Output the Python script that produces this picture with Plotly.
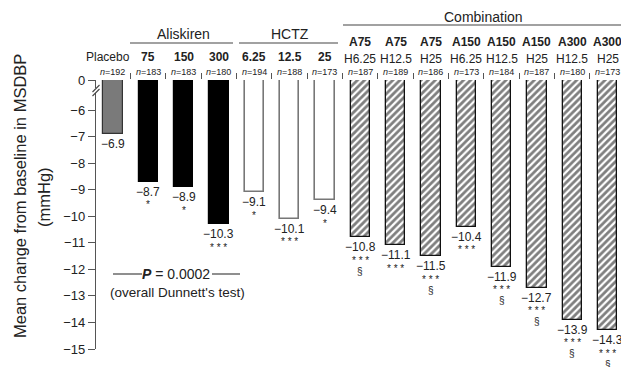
import plotly.graph_objects as go

# ---------------- data ----------------
categories = ["Placebo", "A75", "A150", "A300", "H6.25", "H12.5", "H25",
              "A75 H6.25", "A75 H12.5", "A75 H25", "A150 H6.25", "A150 H12.5",
              "A150 H25", "A300 H12.5", "A300 H25"]
values = [-6.9, -8.7, -8.9, -10.3, -9.1, -10.1, -9.4,
          -10.8, -11.1, -11.5, -10.4, -11.9, -12.7, -13.9, -14.3]
n_sizes = [192, 183, 183, 180, 194, 188, 173, 187, 189, 186, 173, 184, 187, 180, 173]
stars = ["", "*", "*", "* * *", "*", "* * *", "*",
         "* * *", "* * *", "* * *", "* * *", "* * *", "* * *", "* * *", "* * *"]
section = ["", "", "", "", "", "", "",
           "§", "", "§", "", "§", "§", "§", "§"]
top_labels = ["Placebo", "75", "150", "300", "6.25", "12.5", "25"]
combo_line1 = ["A75", "A75", "A75", "A150", "A150", "A150", "A300", "A300"]
combo_line2 = ["H6.25", "H12.5", "H25", "H6.25", "H12.5", "H25", "H12.5", "H25"]
groups = ["placebo", "aliskiren", "aliskiren", "aliskiren", "hctz", "hctz", "hctz",
          "combo", "combo", "combo", "combo", "combo", "combo", "combo", "combo"]
y_ticks = [-6, -7, -8, -9, -10, -11, -12, -13, -14, -15]

# ---------------- geometry ----------------
W, H = 621, 367
ML, MR, MT, MB = 96, 1, 80, 18
ZERO = -4.87          # axis position used to draw the "0" level (broken axis)
FONT = "Liberation Sans, Arial, Helvetica, sans-serif"
TXT = "#222"

def px_x(p):
    return (p - ML) / (W - ML - MR)

def px_y(p):
    return (H - MB - p) / (H - MT - MB)

styles = {
    "placebo": dict(color="#7a7a7a", line=dict(color="#333", width=1.2)),
    "aliskiren": dict(color="#000000", line=dict(color="#000", width=1.2)),
    "hctz": dict(color="#ffffff", line=dict(color="#777", width=1.6)),
    "combo": dict(color="#ffffff", line=dict(color="#111", width=1.3),
                  pattern=dict(shape="/", fgcolor="#000", bgcolor="#ffffff",
                               size=5, solidity=0.55)),
}

fig = go.Figure()
for g in ["placebo", "aliskiren", "hctz", "combo"]:
    idx = [i for i, gg in enumerate(groups) if gg == g]
    fig.add_trace(go.Bar(
        x=idx, y=[values[i] - ZERO for i in idx], base=[ZERO] * len(idx),
        width=0.54, marker=styles[g], showlegend=False, hoverinfo="skip"))

ann = []
def add(**kw):
    kw.setdefault("showarrow", False)
    kw.setdefault("xanchor", "center")
    kw.setdefault("yanchor", "middle")
    ann.append(kw)

for i, v in enumerate(values):
    add(x=i, y=v, xref="x", yref="y", text="−%.1f" % abs(v), yshift=-10,
        font=dict(size=12, color=TXT, family=FONT))
    if stars[i]:
        add(x=i, y=v, xref="x", yref="y", text=stars[i], yshift=-23,
            font=dict(size=10, color=TXT, family=FONT))
    if section[i]:
        add(x=i, y=v, xref="x", yref="y", text=section[i], yshift=-34,
            font=dict(size=10, color=TXT, family=FONT))
    add(x=i, y=px_y(72), xref="x", yref="paper", text="<i>n</i>=%d" % n_sizes[i],
        font=dict(size=9, color=TXT, family=FONT))

for i, t in enumerate(top_labels):
    add(x=i, y=px_y(57), xref="x", yref="paper",
        text=t if i == 0 else "<b>%s</b>" % t, xshift=-5 if i == 0 else 0,
        font=dict(size=12, color=TXT, family=FONT))
for k, (a, h) in enumerate(zip(combo_line1, combo_line2)):
    i = 7 + k
    add(x=i, y=px_y(42), xref="x", yref="paper", text="<b>%s</b>" % a,
        font=dict(size=12, color=TXT, family=FONT))
    add(x=i, y=px_y(59), xref="x", yref="paper", text=h,
        font=dict(size=12, color=TXT, family=FONT))

add(x=2, y=px_y(34), xref="x", yref="paper", text="Aliskiren",
    font=dict(size=14, color=TXT, family=FONT))
add(x=5, y=px_y(34), xref="x", yref="paper", text="HCTZ",
    font=dict(size=14, color=TXT, family=FONT))
add(x=10.5, y=px_y(17), xref="x", yref="paper", text="Combination",
    font=dict(size=14, color=TXT, family=FONT))

add(x=px_x(176), y=px_y(274), xref="paper", yref="paper",
    text="<b><i>P</i></b> = 0.0002", font=dict(size=14, color=TXT, family=FONT))
add(x=px_x(177), y=px_y(292), xref="paper", yref="paper",
    text="(overall Dunnett's test)", font=dict(size=13.5, color=TXT, family=FONT))

add(x=px_x(20), y=px_y(196), xref="paper", yref="paper",
    text="Mean change from baseline in MSDBP", textangle=-90,
    font=dict(size=16.5, color=TXT, family=FONT))
add(x=px_x(44), y=px_y(197), xref="paper", yref="paper",
    text="(mmHg)", textangle=-90, font=dict(size=16.5, color=TXT, family=FONT))

shapes = []
def hline(x0, x1, y, w=1.2, col="#444"):
    shapes.append(dict(type="line", xref="paper", yref="paper",
                       x0=px_x(x0), x1=px_x(x1), y0=px_y(y), y1=px_y(y),
                       line=dict(color=col, width=w)))

hline(130, 233, 43)
hline(239, 338, 43)
hline(343, 621, 25)
hline(113, 142, 274, 1.1, "#333")
hline(212, 240, 274, 1.1, "#333")

shapes.append(dict(type="rect", xref="paper", yref="paper",
                   x0=px_x(94), x1=px_x(99), y0=px_y(93), y1=px_y(88),
                   fillcolor="white", line=dict(width=0), layer="above"))
for dy in (0, 4):
    shapes.append(dict(type="line", xref="paper", yref="paper",
                       x0=px_x(92.5), x1=px_x(99.5), y0=px_y(92 + dy), y1=px_y(85 + dy),
                       line=dict(color="#444", width=1.1), layer="above"))

fig.update_layout(
    width=W, height=H, margin=dict(l=ML, r=MR, t=MT, b=MB),
    paper_bgcolor="white", plot_bgcolor="white",
    bargap=0, annotations=ann, shapes=shapes,
    font=dict(family=FONT, color=TXT),
    xaxis=dict(range=[-0.48, 14.35], side="top", showgrid=False, zeroline=False,
               showline=False, tickmode="array",
               tickvals=[i + 0.5 for i in range(-1, 14)],
               ticks="outside", ticklen=6, tickcolor="#555", tickwidth=1,
               showticklabels=False),
    yaxis=dict(range=[-15, ZERO], showgrid=False, zeroline=False,
               showline=True, linecolor="#555", linewidth=1.4,
               ticks="outside", ticklen=7, tickcolor="#555", tickwidth=1.3,
               tickmode="array", tickvals=[ZERO] + y_ticks,
               ticktext=["0"] + ["−%d" % abs(t) for t in y_ticks],
               tickfont=dict(size=13, color=TXT, family=FONT)),
)

fig.write_html("out.html", config={"displayModeBar": False},
               post_script="document.body.style.margin='0';document.body.style.overflow='hidden';")
